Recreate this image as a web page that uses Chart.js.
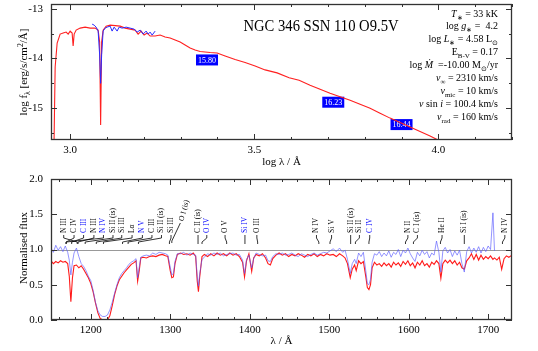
<!DOCTYPE html>
<html>
<head>
<meta charset="utf-8">
<script src="https://cdn.jsdelivr.net/npm/chart.js@4"></script>
<style>
  html, body { margin: 0; padding: 0; background: #fff; }
  #wrap { position: relative; width: 538px; height: 351px; }
  #sed { position: absolute; left: 0; top: 0; }
  #uv { position: absolute; left: 0; top: 175px; }
</style>
</head>
<body>
<div id="wrap">
  <canvas id="sed" width="538" height="175"></canvas>
  <canvas id="uv" width="538" height="176"></canvas>
</div>
<script>
// ---- SED panel (log lambda / log f_lambda) ----
const modelLogLam = [2.9552, 2.9593, 2.9647, 2.9728, 2.9810, 2.9891, 2.9946, 3.0000, 3.0054, 3.0081,
  3.0109, 3.0163, 3.0272, 3.0407, 3.0543, 3.0679, 3.0760, 3.0801, 3.0828, 3.0855,
  3.0896, 3.0977, 3.1086, 3.1222, 3.1358, 3.1493, 3.1629, 3.1765, 3.1846, 3.1928,
  3.2009, 3.2091, 3.2172, 3.2308, 3.2444, 3.2579, 3.2715, 3.2851, 3.2987, 3.3122,
  3.3258, 3.3394, 3.3530, 3.3801, 3.3991, 3.4209, 3.4480, 3.4752, 3.5023, 3.5295,
  3.5620, 3.5947, 3.6218, 3.6516, 3.6788, 3.7059, 3.7331, 3.7603, 3.7874, 3.8146,
  3.8417, 3.8689, 3.8960, 3.9232, 3.9503, 3.9775, 4.0046, 4.0300];
const modelLogF = [-16.2, -14.17, -13.69, -13.51, -13.49, -13.47, -13.51, -13.45, -13.49, -13.75,
  -13.51, -13.43, -13.39, -13.37, -13.39, -13.39, -13.43, -13.67, -15.34, -13.67,
  -13.43, -13.35, -13.33, -13.34, -13.35, -13.39, -13.41, -13.43, -13.51, -13.45,
  -13.53, -13.49, -13.55, -13.55, -13.53, -13.57, -13.59, -13.63, -13.67, -13.73,
  -13.79, -13.83, -13.86, -13.88, -13.89, -13.95, -14.02, -14.08, -14.15, -14.23,
  -14.29, -14.39, -14.44, -14.54, -14.62, -14.70, -14.77, -14.84, -14.92, -15.00,
  -15.10, -15.20, -15.29, -15.38, -15.47, -15.56, -15.66, -15.76];
const iueLogLam = [3.0597, 3.0652, 3.0706, 3.0760, 3.0801, 3.0828, 3.0855, 3.0896, 3.0950, 3.1005,
  3.1086, 3.1140, 3.1195, 3.1276, 3.1330, 3.1412, 3.1521, 3.1629, 3.1738, 3.1819,
  3.1901, 3.1982, 3.2063, 3.2118, 3.2172, 3.2227, 3.2308];
const iueLogF = [-13.31, -13.33, -13.37, -13.45, -13.93, -14.50, -13.93, -13.45, -13.39, -13.37,
  -13.35, -13.45, -13.37, -13.45, -13.37, -13.39, -13.37, -13.39, -13.41, -13.47,
  -13.43, -13.51, -13.45, -13.51, -13.47, -13.53, -13.45];
const photLogLam = [3.3717, 3.7146, 3.9000];
const photLogF = [-14.03, -14.88, -15.33];
const photMag = ['15.80', '16.23', '16.44'];

const sedXMajor = [3.0, 3.5, 4.0];
const sedXMinor = [3.0, 3.1, 3.2, 3.3, 3.4, 3.5, 3.6, 3.7, 3.8, 3.9, 4.0, 4.1, 4.2];
const sedYMajor = [-15, -14, -13];
const sedYMinor = [-15.5, -14.5, -13.5];

const starName = 'NGC 346 SSN 110 O9.5V';
const starParams = [
  [['T', 'i'], ['∗', 'b'], [' = 33 kK', 'n']],
  [['log ', 'n'], ['g', 'i'], ['∗', 'b'], [' =  4.2', 'n']],
  [['log ', 'n'], ['L', 'i'], ['∗', 'b'], [' = 4.58 L', 'n'], ['⊙', 'b']],
  [['E', 'n'], ['B-V', 'b'], [' = 0.17', 'n']],
  [['log ', 'n'], ['Ṁ', 'i'], ['  =-10.00 M', 'n'], ['⊙', 'b'], ['/yr', 'n']],
  [['v', 'i'], ['∞', 'b'], [' = 2310 km/s', 'n']],
  [['v', 'i'], ['mic', 'b'], [' = 10 km/s', 'n']],
  [['v', 'i'], [' sin ', 'n'], ['i', 'i'], [' = 100.4 km/s', 'n']],
  [['v', 'i'], ['rad', 'b'], [' = 160 km/s', 'n']],
];

// ---- UV panel (normalised) ----
const uvWave = [1150, 1153, 1156, 1159, 1162, 1165, 1168, 1171, 1173, 1175,
  1177, 1179, 1182, 1185, 1188, 1191, 1194, 1197, 1200, 1203,
  1206, 1209, 1212, 1215, 1218, 1221, 1224, 1227, 1230, 1233,
  1236, 1239, 1242, 1245, 1248, 1251, 1254, 1257, 1259, 1261,
  1263, 1266, 1270, 1274, 1278, 1282, 1286, 1290, 1294, 1297,
  1300, 1302, 1304, 1306, 1309, 1313, 1317, 1321, 1325, 1329,
  1332, 1334, 1335.5, 1337, 1340, 1343, 1347, 1351, 1355, 1359,
  1363, 1367, 1371, 1375, 1379, 1383, 1387, 1391, 1393.5, 1396,
  1399, 1402.5, 1405, 1408, 1412, 1416, 1420, 1423, 1426, 1429,
  1433, 1437, 1441, 1445, 1449, 1453, 1457, 1461, 1465, 1469,
  1473, 1477, 1481, 1485, 1489, 1493, 1497, 1501, 1505, 1509,
  1513, 1517, 1520, 1523, 1526.5, 1529, 1532, 1534, 1537, 1540,
  1543, 1546, 1548, 1550, 1552, 1554, 1557, 1560, 1563, 1566,
  1569, 1572, 1575, 1578, 1581, 1584, 1587, 1590, 1593, 1596,
  1599, 1602, 1605, 1608, 1611, 1614, 1617, 1620, 1623, 1626,
  1629, 1632, 1635, 1638, 1640.5, 1643, 1646, 1649, 1652, 1655,
  1658, 1661, 1664, 1667, 1670, 1673, 1676, 1679, 1682, 1685,
  1688, 1691, 1694, 1697, 1700, 1703, 1706, 1708, 1711, 1714,
  1717, 1720, 1723, 1726, 1730];
const uvModel = [0.84, 0.80, 0.83, 0.81, 0.84, 0.82, 0.83, 0.80, 0.62, 0.26,
  0.60, 0.77, 0.78, 0.74, 0.77, 0.72, 0.66, 0.60, 0.52, 0.40,
  0.24, 0.10, 0.02, 0.00, 0.00, 0.00, 0.06, 0.20, 0.36, 0.48,
  0.57, 0.62, 0.67, 0.71, 0.75, 0.79, 0.81, 0.84, 0.55, 0.70,
  0.88, 0.89, 0.88, 0.90, 0.91, 0.90, 0.92, 0.93, 0.91, 0.90,
  0.70, 0.60, 0.61, 0.80, 0.93, 0.95, 0.93, 0.94, 0.92, 0.95,
  0.90, 0.55, 0.40, 0.60, 0.90, 0.93, 0.90, 0.94, 0.91, 0.95,
  0.92, 0.94, 0.91, 0.95, 0.92, 0.94, 0.90, 0.82, 0.61, 0.84,
  0.94, 0.69, 0.88, 0.93, 0.91, 0.94, 0.88, 0.80, 0.78, 0.87,
  0.92, 0.95, 0.92, 0.94, 0.90, 0.93, 0.91, 0.94, 0.92, 0.89,
  0.93, 0.91, 0.94, 0.90, 0.93, 0.91, 0.94, 0.92, 0.93, 0.90,
  0.94, 0.91, 0.88, 0.80, 0.60, 0.72, 0.78, 0.70, 0.84, 0.80,
  0.83, 0.62, 0.46, 0.43, 0.50, 0.74, 0.82, 0.78, 0.80, 0.76,
  0.81, 0.77, 0.80, 0.75, 0.82, 0.78, 0.81, 0.76, 0.83, 0.79,
  0.84, 0.77, 0.81, 0.74, 0.82, 0.78, 0.84, 0.77, 0.80, 0.75,
  0.82, 0.79, 0.84, 0.80, 0.59, 0.80, 0.85, 0.81, 0.85, 0.80,
  0.84, 0.78, 0.82, 0.74, 0.72, 0.84, 0.88, 0.94, 0.86, 0.93,
  0.85, 0.92, 0.86, 0.90, 0.87, 0.91, 0.86, 0.88, 0.85, 0.89,
  0.72, 0.87, 0.91, 0.89, 0.92];
const uvObs = [1.02, 0.96, 1.06, 0.99, 1.04, 0.97, 1.05, 0.96, 0.85, 0.64,
  0.82, 0.95, 1.02, 0.90, 0.80, 0.76, 0.70, 0.62, 0.56, 0.42,
  0.25, 0.13, 0.07, 0.05, 0.05, 0.07, 0.14, 0.25, 0.38, 0.50,
  0.60, 0.66, 0.70, 0.74, 0.79, 0.82, 0.84, 0.87, 0.60, 0.75,
  0.89, 0.91, 0.92, 0.91, 0.95, 0.93, 0.96, 0.95, 0.94, 0.92,
  0.75, 0.64, 0.66, 0.83, 0.94, 0.94, 0.96, 0.92, 0.95, 0.93,
  0.92, 0.62, 0.48, 0.65, 0.86, 0.89, 0.94, 0.92, 0.95, 0.93,
  0.95, 0.91, 0.93, 0.94, 0.95, 0.92, 0.93, 0.85, 0.66, 0.86,
  0.92, 0.74, 0.87, 0.95, 0.93, 0.91, 0.92, 0.84, 0.83, 0.90,
  0.94, 0.93, 0.95, 0.92, 0.93, 0.95, 0.92, 0.90, 0.94, 0.92,
  0.90, 0.93, 0.95, 0.92, 0.94, 0.96, 0.95, 0.98, 1.01, 0.97,
  1.02, 0.96, 0.99, 0.86, 0.66, 0.80, 0.86, 0.80, 0.95, 0.90,
  0.96, 0.70, 0.52, 0.50, 0.58, 0.82, 0.94, 0.92, 0.97, 0.90,
  0.95, 0.91, 0.98, 0.89, 0.96, 0.93, 1.00, 0.90, 0.99, 0.95,
  1.02, 0.94, 0.88, 0.83, 0.96, 0.91, 0.99, 0.93, 0.97, 0.88,
  0.95, 0.92, 1.12, 0.96, 0.68, 0.98, 1.03, 0.95, 1.00, 0.90,
  0.98, 0.92, 0.99, 0.80, 0.68, 0.97, 1.04, 0.95, 1.02, 0.96,
  1.04, 0.95, 1.03, 0.97, 1.05, 1.00, 1.52, 0.98, null, null,
  null, null, null, null, null];

const lineNames = ['N III', 'C IV', 'C III', 'N III', 'N IV', 'Si II (is)', 'Si III', 'Lα', 'N V', 'C III',
  'Si II (is)', 'Si III', 'O I (is)', 'C II (is)', 'O IV', 'O V', 'Si IV', 'O III', 'N IV', 'Si V',
  'Si II (is)', 'Si II', 'C IV', 'N II', 'C I (is)', 'He II', 'Si I (is)', 'N IV'];
const lineLabelWave = [1166, 1179, 1191, 1204, 1216, 1228, 1239, 1252, 1265, 1277,
  1289, 1301, 1314, 1335, 1346, 1369, 1394, 1409, 1484, 1503,
  1527, 1538, 1551, 1599, 1611, 1642, 1670, 1721];
const lineWave = [1183, 1169, 1176, 1184, 1169, 1193, 1207, 1216, 1240, 1247,
  1260, 1299, 1302, 1335, 1340, 1371, 1394, 1410, 1487, 1501,
  1527, 1533, 1550, 1596, 1606, 1640, 1670, 1718];
const lineIsBlue = [0, 0, 1, 0, 1, 0, 0, 0, 1, 0,
  0, 0, 0, 0, 1, 0, 1, 0, 0, 0,
  0, 0, 1, 0, 0, 0, 0, 0];

const uvXMajor = [1200, 1300, 1400, 1500, 1600, 1700];
const uvXMinor = [1160, 1180, 1220, 1240, 1260, 1280, 1320, 1340, 1360, 1380, 1420, 1440, 1460, 1480,
  1520, 1540, 1560, 1580, 1620, 1640, 1660, 1680, 1720];
const uvYMajor = [0, 0.5, 1.0, 1.5, 2.0];

const SERIF = "'Liberation Serif', 'Times New Roman', serif";
Chart.defaults.font.family = SERIF;
Chart.defaults.color = '#000';

function pairs(xs, ys) {
  const out = [];
  xs.forEach((x, i) => { if (ys[i] !== null) out.push({ x: x, y: ys[i] }); });
  return out;
}

function fontFor(kind, size) {
  const small = kind.includes('b') || kind.includes('p');
  return (kind.includes('i') ? 'italic ' : '') + (small ? size * 0.7 : size) + 'px ' + SERIF;
}

// text with italic / subscript / superscript pieces
function rich(ctx, parts, x, y, size, align) {
  const widths = parts.map(([t, k]) => { ctx.font = fontFor(k, size); return ctx.measureText(t).width; });
  const total = widths.reduce((s, w) => s + w, 0);
  let cx = align === 'right' ? x - total : align === 'center' ? x - total / 2 : x;
  ctx.textAlign = 'left';
  ctx.textBaseline = 'alphabetic';
  parts.forEach(([t, k], i) => {
    ctx.font = fontFor(k, size);
    const dy = k.includes('b') ? size * 0.3 : k.includes('p') ? -size * 0.4 : 0;
    ctx.fillText(t, cx, y + dy);
    cx += widths[i];
  });
}

// box round the plot with inward ticks on every side
function axisFrame(xMajor, xMinor, yMajor, yMinor) {
  return {
    id: 'axisFrame',
    afterDraw(chart) {
      const { ctx, chartArea: a, scales } = chart;
      ctx.save();
      ctx.strokeStyle = '#333';
      ctx.lineWidth = 1;
      ctx.beginPath();
      const xt = (vals, len) => vals.forEach(v => {
        const p = Math.round(scales.x.getPixelForValue(v)) + 0.5;
        ctx.moveTo(p, a.bottom); ctx.lineTo(p, a.bottom - len);
        ctx.moveTo(p, a.top); ctx.lineTo(p, a.top + len);
      });
      const yt = (vals, len) => vals.forEach(v => {
        const p = Math.round(scales.y.getPixelForValue(v)) + 0.5;
        ctx.moveTo(a.left, p); ctx.lineTo(a.left + len, p);
        ctx.moveTo(a.right, p); ctx.lineTo(a.right - len, p);
      });
      xt(xMinor, 3); xt(xMajor, 6); yt(yMinor, 3); yt(yMajor, 6);
      ctx.stroke();
      ctx.lineWidth = 1.3;
      ctx.strokeRect(a.left + 0.5, a.top + 0.5, a.right - a.left - 1, a.bottom - a.top - 1);
      ctx.restore();
    }
  };
}

function scaleOpts(min, max, ticks, fmt, fixed, isX, title, titleBottom) {
  return {
    type: 'linear', min: min, max: max,
    afterBuildTicks: s => { s.ticks = ticks.map(v => ({ value: v })); },
    afterFit: s => {
      if (isX) { s.height = fixed; s.paddingLeft = 0; s.paddingRight = 0; }
      else { s.width = fixed; s.paddingTop = 0; s.paddingBottom = 0; }
    },
    grid: { display: false, drawTicks: false },
    border: { display: false },
    ticks: { padding: isX ? 4 : 8, font: { size: 11 }, callback: fmt, maxRotation: 0, autoSkip: false },
    title: title ? { display: true, text: title, font: { size: 11 }, padding: { top: 0, bottom: titleBottom } } : { display: false }
  };
}

const sedDecor = {
  id: 'sedDecor',
  beforeDatasetsDraw(chart) {
    const { ctx, scales: { x, y } } = chart;
    ctx.save();
    photMag.forEach((m, i) => {
      const px = x.getPixelForValue(photLogLam[i]);
      const py = y.getPixelForValue(photLogF[i]);
      ctx.fillStyle = '#0000ff';
      ctx.fillRect(px - 11, py - 5.5, 22, 11);
      ctx.fillStyle = '#fff';
      ctx.font = '8px ' + SERIF;
      ctx.textAlign = 'center';
      ctx.textBaseline = 'middle';
      ctx.fillText(m, px, py + 0.5);
    });
    ctx.restore();
  },
  afterDraw(chart) {
    const { ctx } = chart;
    ctx.save();
    ctx.fillStyle = '#000';
    ctx.save();
    ctx.translate(321, 31);
    ctx.scale(0.86, 1);
    ctx.font = '17px ' + SERIF;
    ctx.textAlign = 'center';
    ctx.textBaseline = 'alphabetic';
    ctx.fillText(starName, 0, 0);
    ctx.restore();
    starParams.forEach((parts, i) => rich(ctx, parts, 498, 16.5 + i * 12.9, 10, 'right'));
    ctx.translate(23, 72);
    ctx.rotate(-Math.PI / 2);
    rich(ctx, [['log f', 'n'], ['λ', 'b'], [' [erg/s/cm', 'n'], ['2', 'p'], ['/Å]', 'n']], 0, 4, 11, 'center');
    ctx.restore();
  }
};

const uvDecor = {
  id: 'uvDecor',
  beforeDatasetsDraw(chart) {
    const { ctx, chartArea: a, scales: { y } } = chart;
    const p = Math.round(y.getPixelForValue(1.0)) + 0.5;
    ctx.save();
    ctx.strokeStyle = '#999';
    ctx.lineWidth = 1;
    ctx.beginPath();
    ctx.moveTo(a.left, p); ctx.lineTo(a.right, p);
    ctx.stroke();
    ctx.restore();
  },
  afterDraw(chart) {
    const { ctx, scales: { x } } = chart;
    ctx.save();
    ctx.lineWidth = 0.8;
    lineNames.forEach((name, i) => {
      const xl = x.getPixelForValue(lineLabelWave[i]);
      const xw = x.getPixelForValue(lineWave[i]);
      const col = lineIsBlue[i] ? '#0000ff' : '#000';
      ctx.strokeStyle = '#000';
      ctx.beginPath();
      if (name === 'O I (is)') {
        ctx.moveTo(xl - 1, 48); ctx.lineTo(xw, 66); ctx.lineTo(xw, 68);
      } else {
        ctx.moveTo(xl, 60); ctx.lineTo(xl, 63); ctx.lineTo(xw, 67); ctx.lineTo(xw, 69);
      }
      ctx.stroke();
      ctx.save();
      ctx.fillStyle = col;
      ctx.font = '7.5px ' + SERIF;
      ctx.textAlign = 'left';
      ctx.textBaseline = 'middle';
      if (name === 'O I (is)') {
        ctx.translate(xl, 46);
        ctx.rotate(-75 * Math.PI / 180);
      } else {
        ctx.translate(xl, 58);
        ctx.rotate(-Math.PI / 2);
      }
      ctx.fillText(name, 0, 0);
      ctx.restore();
    });
    ctx.fillStyle = '#000';
    ctx.translate(23, 73);
    ctx.rotate(-Math.PI / 2);
    rich(ctx, [['Normalised flux', 'n']], 0, 4, 11, 'center');
    ctx.restore();
  }
};

new Chart(document.getElementById('sed'), {
  type: 'line',
  data: {
    datasets: [
      { data: pairs(iueLogLam, iueLogF), borderColor: '#2a2aff', borderWidth: 1, pointRadius: 0, tension: 0 },
      { data: pairs(modelLogLam, modelLogF), borderColor: '#ff2020', borderWidth: 1.1, pointRadius: 0, tension: 0 }
    ]
  },
  options: {
    responsive: false,
    animation: false,
    layout: { padding: { left: 0, right: 26, top: 4, bottom: 0 } },
    plugins: { legend: { display: false }, tooltip: { enabled: false } },
    scales: {
      x: scaleOpts(2.948, 4.2, sedXMajor, v => v.toFixed(1), 35, true, 'log λ / Å', 6),
      y: scaleOpts(-15.64, -12.905, sedYMajor, v => String(v), 51, false, null, 0)
    }
  },
  plugins: [sedDecor, axisFrame(sedXMajor, sedXMinor, sedYMajor, sedYMinor)]
});

new Chart(document.getElementById('uv'), {
  type: 'line',
  data: {
    datasets: [
      { data: pairs(uvWave, uvObs), borderColor: 'rgba(90,90,255,0.65)', borderWidth: 1, pointRadius: 0, tension: 0 },
      { data: pairs(uvWave, uvModel), borderColor: '#ff1a1a', borderWidth: 1.1, pointRadius: 0, tension: 0 }
    ]
  },
  options: {
    responsive: false,
    animation: false,
    layout: { padding: { left: 0, right: 26, top: 4, bottom: 0 } },
    plugins: { legend: { display: false }, tooltip: { enabled: false } },
    scales: {
      x: scaleOpts(1150, 1730, uvXMajor, v => String(v), 31, true, 'λ / Å', 3.4),
      y: scaleOpts(0, 2.0, uvYMajor, v => v.toFixed(1), 51, false, null, 0)
    }
  },
  plugins: [uvDecor, axisFrame(uvXMajor, uvXMinor, uvYMajor, [])]
});
</script>
</body>
</html>
